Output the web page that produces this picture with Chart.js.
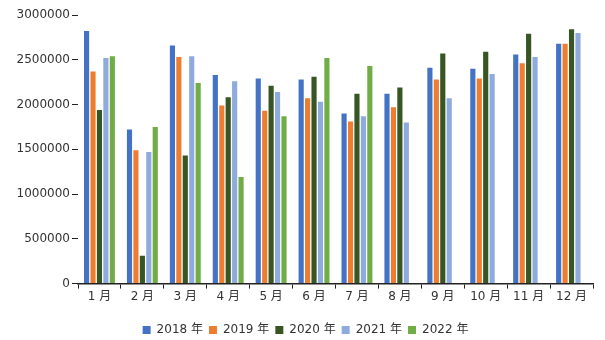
<!DOCTYPE html>
<html>
<head>
<meta charset="utf-8">
<script src="https://cdn.jsdelivr.net/npm/chart.js@4.4.0/dist/chart.umd.min.js"></script>
<style>
  html, body { margin: 0; padding: 0; background: #fff; }
  #wrap { width: 605px; height: 340px; }
</style>
</head>
<body>
<div id="wrap"><canvas id="c"></canvas></div>
<script>
const months = ["1 月", "2 月", "3 月", "4 月", "5 月", "6 月", "7 月", "8 月", "9 月", "10 月", "11 月", "12 月"];
const seriesNames = ["2018 年", "2019 年", "2020 年", "2021 年", "2022 年"];
const y2018 = [2820000, 1720000, 2660000, 2330000, 2290000, 2280000, 1900000, 2120000, 2410000, 2400000, 2560000, 2680000];
const y2019 = [2370000, 1490000, 2530000, 1990000, 1930000, 2070000, 1810000, 1970000, 2280000, 2290000, 2460000, 2680000];
const y2020 = [1940000, 310000, 1430000, 2080000, 2210000, 2310000, 2120000, 2190000, 2570000, 2590000, 2790000, 2840000];
const y2021 = [2520000, 1470000, 2540000, 2260000, 2140000, 2030000, 1870000, 1800000, 2070000, 2340000, 2530000, 2800000];
const y2022 = [2540000, 1750000, 2240000, 1190000, 1870000, 2520000, 2430000, null, null, null, null, null];
const yTicks = [0, 500000, 1000000, 1500000, 2000000, 2500000, 3000000];

const colors = ["#4472C4", "#ED7D31", "#375623", "#8FAADC", "#70AD47"];
const allData = [y2018, y2019, y2020, y2021, y2022];

const font = { family: "'DejaVu Sans', 'Noto Sans CJK SC', sans-serif", size: 12 };

const config = {
  type: "bar",
  data: {
    labels: months,
    datasets: seriesNames.map((name, i) => ({
      label: name,
      data: allData[i],
      backgroundColor: colors[i],
      categoryPercentage: 0.75,
      barPercentage: 0.8,
    })),
  },
  options: {
    responsive: true,
    maintainAspectRatio: false,
    animation: false,
    layout: {
      padding: { left: 6, right: 0, top: 15, bottom: -6 },
    },
    scales: {
      x: {
        grid: {
          offset: true,
          drawOnChartArea: false,
          drawTicks: true,
          tickLength: 5,
          color: "#222",
        },
        border: { display: true, color: "#222", width: 1.5 },
        ticks: { color: "#333", font: font, padding: 1 },
      },
      y: {
        min: 0,
        max: 3000000,
        afterBuildTicks: function (scale) {
          scale.ticks = yTicks.map((v) => ({ value: v }));
        },
        afterFit: function (scale) {
          scale.width = 72;
        },
        grid: {
          drawOnChartArea: false,
          drawTicks: true,
          tickLength: 6,
          color: "#222",
        },
        border: { display: false },
        ticks: {
          color: "#333",
          font: font,
          padding: 2,
          callback: function (value) {
            return String(value);
          },
        },
      },
      // empty right-hand gutter so the legend centres like the original
      yRight: {
        position: "right",
        min: 0,
        max: 3000000,
        grid: { display: false },
        border: { display: false },
        ticks: { display: false },
        afterFit: function (scale) {
          scale.width = 12;
        },
      },
    },
    plugins: {
      legend: {
        position: "bottom",
        title: {
          display: true,
          text: "",
          font: { size: 1, lineHeight: 1 },
          padding: { top: 12, bottom: 0 },
        },
        labels: {
          boxWidth: 8,
          boxHeight: 8,
          color: "#333",
          font: font,
          padding: 6,
        },
      },
      tooltip: { enabled: false },
    },
  },
};

new Chart(document.getElementById("c"), config);
</script>
</body>
</html>
